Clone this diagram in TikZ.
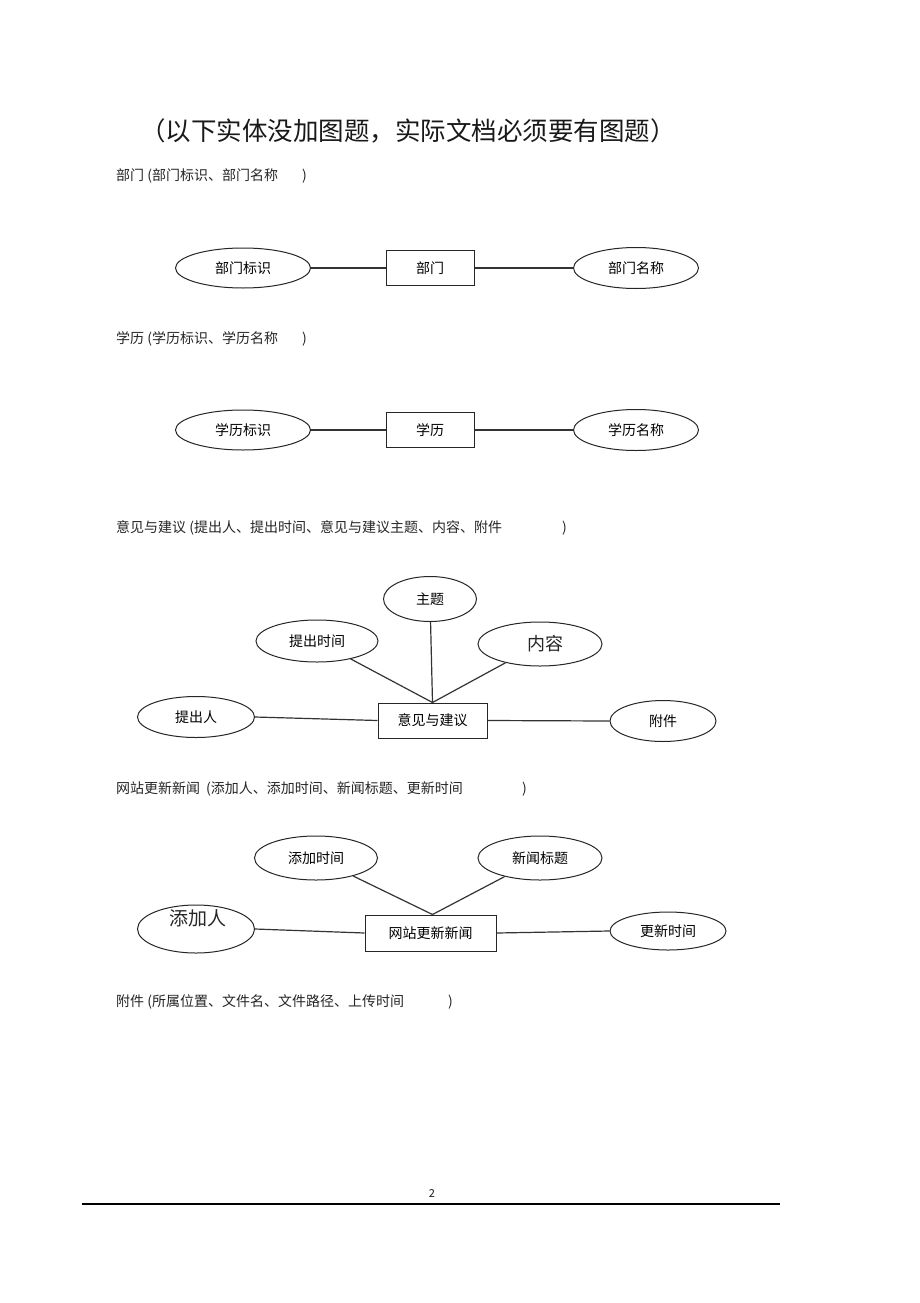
\documentclass[tikz,border=0pt]{standalone}
\usepackage{fontspec}
\setmainfont{Noto Sans CJK SC}
\usetikzlibrary{shapes.geometric}
\begin{document}
\begin{tikzpicture}[x=1pt,y=-1pt,
  attr/.style={draw=black!85, ellipse, line width=1pt, inner sep=0pt, font=\fontsize{14}{16}\selectfont},
  ent/.style={draw=black!85, rectangle, line width=1pt, inner sep=0pt, font=\fontsize{14}{16}\selectfont},
  link/.style={draw=black!80, line width=1.2pt},
  captxt/.style={anchor=west, inner sep=0pt, font=\fontsize{14}{16}\selectfont, text=black!85}
]
\useasboundingbox[fill=white] (0,0) rectangle (920,1303);

% title
\node[inner sep=0pt, font=\fontsize{25.5}{28}\selectfont, text=black!90] (title) at (408,131) {（以下实体没加图题，实际文档必须要有图题）};

% captions
\node[captxt] (c1) at (116,176) {\makebox[186pt][l]{部门 (部门标识、部门名称})};
\node[captxt] (c2) at (116,339) {\makebox[186pt][l]{学历 (学历标识、学历名称})};
\node[captxt] (c3) at (116,528) {\makebox[446pt][l]{意见与建议 (提出人、提出时间、意见与建议主题、内容、附件})};
\node[captxt] (c4) at (116,789) {\makebox[406pt][l]{网站更新新闻\hspace{6pt}(添加人、添加时间、新闻标题、更新时间})};
\node[captxt] (c5) at (116,1002) {\makebox[332pt][l]{附件 (所属位置、文件名、文件路径、上传时间})};

% entity 1
\node[attr, minimum width=135pt, minimum height=40pt] (bmbs) at (243,268) {部门标识};
\node[ent, minimum width=88pt, minimum height=35pt] (bm) at (430,268) {部门};
\node[attr, minimum width=125pt, minimum height=41pt] (bmmc) at (636,268) {部门名称};
\draw[link] (bmbs) -- (bm);
\draw[link] (bm) -- (bmmc);

% entity 2
\node[attr, minimum width=135pt, minimum height=40pt] (xlbs) at (243,430) {学历标识};
\node[ent, minimum width=88pt, minimum height=35pt] (xl) at (430,430) {学历};
\node[attr, minimum width=125pt, minimum height=41pt] (xlmc) at (636,430) {学历名称};
\draw[link] (xlbs) -- (xl);
\draw[link] (xl) -- (xlmc);

% entity 3
\node[ent, minimum width=109pt, minimum height=35pt] (yj) at (432.5,720.5) {意见与建议};
\node[attr, minimum width=93pt, minimum height=45pt] (zt) at (430,599) {主题};
\node[attr, minimum width=122pt, minimum height=42pt] (tcsj) at (317,641) {提出时间};
\node[attr, minimum width=124pt, minimum height=44pt] (nr) at (540,644) {};
\node[inner sep=0pt, font=\fontsize{18}{20}\selectfont, text=black!85] (nrt) at (545,644) {内容};
\node[attr, minimum width=117pt, minimum height=41pt] (tcr) at (196,717) {提出人};
\node[attr, minimum width=106pt, minimum height=41pt] (fj) at (663,721) {附件};
\draw[link] (tcsj) -- (yj.north);
\draw[link] (zt) -- (yj.north);
\draw[link] (nr) -- (yj.north);
\draw[link] (tcr.east) -- (yj.west);
\draw[link] (yj.east) -- (fj.west);

% entity 4
\node[ent, minimum width=131pt, minimum height=36pt] (wz) at (430.5,933) {网站更新新闻};
\node[attr, minimum width=123pt, minimum height=44pt] (tjsj) at (316,858) {添加时间};
\node[attr, minimum width=124pt, minimum height=44pt] (xwbt) at (540,858) {新闻标题};
\node[attr, minimum width=117pt, minimum height=48pt] (tjr) at (196,929) {};
\node[inner sep=0pt, font=\fontsize{19}{21}\selectfont, text=black!85] (tjrt) at (198,918) {添加人};
\node[attr, minimum width=116pt, minimum height=38pt] (gxsj) at (668,931) {更新时间};
\draw[link] (tjsj) -- ([xshift=2pt]wz.north);
\draw[link] (xwbt) -- ([xshift=2pt]wz.north);
\draw[link] (tjr.east) -- (wz.west);
\draw[link] (wz.east) -- (gxsj.west);

% footer
\node[inner sep=0pt, font=\fontsize{11}{13}\selectfont, text=black!90] (pg) at (432,1193) {2};
\draw[line width=1.5pt, black] (82,1204) -- (780,1204);
\end{tikzpicture}
\end{document}
